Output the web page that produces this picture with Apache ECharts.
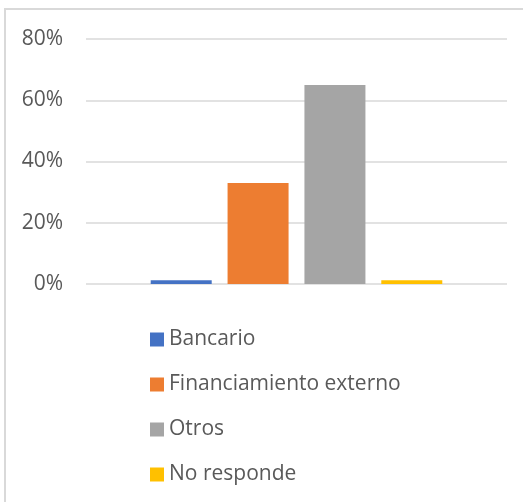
<!DOCTYPE html>
<html>
<head>
<meta charset="utf-8">
<script src="https://cdn.jsdelivr.net/npm/echarts@6/dist/echarts.min.js"></script>
<style>
  html, body { margin: 0; padding: 0; background: #fff; }
  #wrap { position: relative; width: 523px; height: 502px; }
  #chart { width: 523px; height: 502px; }
  #frame {
    position: absolute; left: 4px; top: 8px; right: 0; bottom: 0;
    border-top: 2px solid #d9d9d9; border-left: 2px solid #d9d9d9;
    pointer-events: none;
  }
</style>
</head>
<body>
<div id="wrap">
  <div id="chart"></div>
  <div id="frame"></div>
</div>
<script>
// series names (one bar each, single category group)
const seriesNames = ['Bancario', 'Financiamiento externo', 'Otros', 'No responde']
// values in percent
const seriesValues = [1.2, 33, 65, 1.2]
const seriesColors = ['#4472C4', '#ED7D31', '#A5A5A5', '#FFC000']
const categories = ['']
const yTicks = [0, 20, 40, 60, 80]

const chart = echarts.init(document.getElementById('chart'))

const option = {
  animation: false,
  textStyle: { fontFamily: 'Open Sans' },
  grid: { left: 86, right: 16, top: 39, bottom: 218 },
  legend: {
    orient: 'vertical',
    left: 150,
    top: 329,
    padding: 0,
    itemWidth: 14,
    itemHeight: 14,
    itemGap: 24,
    icon: 'rect',
    data: seriesNames,
    textStyle: { color: '#595959', fontSize: 21, lineHeight: 21, fontFamily: 'Open Sans' }
  },
  xAxis: {
    type: 'category',
    data: categories,
    axisLine: { show: false },
    axisTick: { show: false },
    axisLabel: { show: false }
  },
  yAxis: {
    type: 'value',
    min: yTicks[0],
    max: yTicks[yTicks.length - 1],
    interval: 20,
    axisLine: { show: false },
    axisTick: { show: false },
    axisLabel: {
      formatter: '{value}%',
      color: '#595959',
      fontSize: 21,
      margin: 23,
      fontFamily: 'Open Sans'
    },
    splitLine: { lineStyle: { color: '#d9d9d9', width: 1.5 } }
  },
  series: seriesNames.map((name, i) => ({
    name: name,
    type: 'bar',
    data: [seriesValues[i]],
    barWidth: 61,
    barGap: '26%',
    itemStyle: { color: seriesColors[i] }
  }))
}

chart.setOption(option)
</script>
</body>
</html>
